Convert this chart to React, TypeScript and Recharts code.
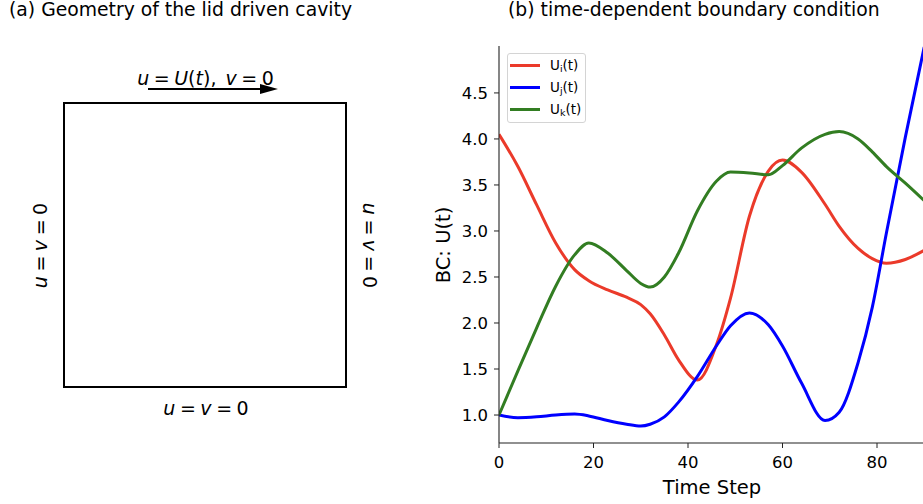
import React from "react";
import { LineChart, Line, XAxis, YAxis, Legend } from "recharts";

const FONT = "'DejaVu Sans', sans-serif";

// values
const timeSteps = [0, 4, 8, 12, 16, 19, 23, 27, 30, 32, 35, 38, 42, 46, 49, 53, 57, 60, 64, 69, 72, 76, 79, 82, 86, 90];
const uiValues = [4.05, 3.7, 3.28, 2.87, 2.58, 2.46, 2.36, 2.28, 2.2, 2.1, 1.87, 1.6, 1.38, 1.76, 2.27, 3.16, 3.65, 3.77, 3.64, 3.29, 3.05, 2.81, 2.7, 2.65, 2.69, 2.79];
const ujValues = [1.0, 0.97, 0.98, 1.0, 1.01, 0.99, 0.94, 0.9, 0.88, 0.9, 0.98, 1.14, 1.42, 1.75, 1.97, 2.11, 1.98, 1.75, 1.35, 0.94, 1.03, 1.57, 2.17, 2.98, 4.02, 5.0];
const ukValues = [1.0, 1.48, 1.95, 2.4, 2.74, 2.87, 2.76, 2.57, 2.43, 2.39, 2.5, 2.76, 3.22, 3.54, 3.64, 3.63, 3.61, 3.71, 3.9, 4.05, 4.08, 4.0, 3.86, 3.7, 3.52, 3.33];

const xTicks = [0, 20, 40, 60, 80];
const yTicks = [1.0, 1.5, 2.0, 2.5, 3.0, 3.5, 4.0, 4.5];
const legendSubs: Record<string, string> = { ui: "i", uj: "j", uk: "k" };

const chartData = timeSteps.map((t, i) => ({
  t,
  ui: uiValues[i],
  uj: ujValues[i],
  uk: ukValues[i],
}));

const LegendBox = ({ payload }: any) => (
  <div
    style={{
      width: 77,
      height: 68,
      border: "1px solid #d4d4d4",
      borderRadius: 3,
      background: "rgba(255,255,255,0.8)",
      position: "relative",
    }}
  >
    {(payload || []).map((entry: any, i: number) => (
      <div
        key={i}
        style={{
          position: "absolute",
          left: 2,
          top: 4 + i * 22,
          height: 14,
          display: "flex",
          alignItems: "center",
        }}
      >
        <span style={{ display: "inline-block", width: 30, height: 3, background: entry.color }} />
        <span style={{ marginLeft: 10, fontSize: 13.5, lineHeight: "14px", color: "#000", fontFamily: FONT, whiteSpace: "nowrap" }}>
          U
          <sub style={{ fontSize: 9.5, lineHeight: 0, verticalAlign: -2 }}>{legendSubs[entry.dataKey]}</sub>
          (t)
        </span>
      </div>
    ))}
  </div>
);

const mathStyle: React.CSSProperties = { whiteSpace: "pre", wordSpacing: -1.5 };

const App = () => {
  return (
    <div
      style={{
        position: "absolute",
        left: 0,
        top: 0,
        width: 923,
        height: 504,
        overflow: "hidden",
        background: "#fff",
        fontFamily: FONT,
      }}
    >
      <div style={{ position: "absolute", left: 0, top: 0 }}>
        <LineChart
          width={960}
          height={504}
          data={chartData}
          margin={{ top: 46, right: 35.75, bottom: 31, left: 439 }}
        >
          <XAxis
            dataKey="t"
            type="number"
            domain={[0, 90]}
            ticks={xTicks}
            allowDataOverflow
            height={30}
            tickSize={5}
            tickMargin={8}
            stroke="#222"
            axisLine={{ stroke: "#222", strokeWidth: 1.1 }}
            tick={{ fill: "#000", fontSize: 16.5, fontFamily: FONT }}
          />
          <XAxis
            xAxisId="top"
            orientation="top"
            dataKey="t"
            type="number"
            domain={[0, 90]}
            height={0}
            tick={false}
            tickLine={false}
            axisLine={{ stroke: "#222", strokeWidth: 1.1 }}
          />
          <YAxis
            type="number"
            domain={[0.696, 5.01]}
            ticks={yTicks}
            allowDataOverflow
            width={60}
            tickSize={5}
            tickMargin={6}
            stroke="#222"
            axisLine={{ stroke: "#222", strokeWidth: 1.1 }}
            tickFormatter={(v: number) => v.toFixed(1)}
            tick={{ fill: "#000", fontSize: 16.5, fontFamily: FONT }}
          />
          <Legend
            layout="vertical"
            align="center"
            verticalAlign="middle"
            content={<LegendBox />}
            wrapperStyle={{ left: 507, top: 53, width: "auto" }}
          />
          <Line type="monotone" dataKey="ui" name="Ui(t)" stroke="#eb3a2a" strokeWidth={3} dot={false} activeDot={false} isAnimationActive={false} />
          <Line type="monotone" dataKey="uj" name="Uj(t)" stroke="#0000ff" strokeWidth={3} dot={false} activeDot={false} isAnimationActive={false} />
          <Line type="monotone" dataKey="uk" name="Uk(t)" stroke="#327d22" strokeWidth={3} dot={false} activeDot={false} isAnimationActive={false} />
        </LineChart>
      </div>

      <svg
        width={923}
        height={504}
        style={{ position: "absolute", left: 0, top: 0, pointerEvents: "none" }}
        fontFamily={FONT}
      >
        {/* titles */}
        <text x={9} y={16} fontSize={18.8} fill="#000">
          (a) Geometry of the lid driven cavity
        </text>
        <text x={508} y={16} fontSize={18.8} fill="#000">
          (b) time-dependent boundary condition
        </text>

        {/* axis titles */}
        <text x={712} y={494} fontSize={19.5} textAnchor="middle" fill="#000">
          Time Step
        </text>
        <text x={450} y={245} fontSize={19.5} textAnchor="middle" fill="#000" transform="rotate(-90 450 245)">
          BC: U(t)
        </text>

        {/* cavity */}
        <rect x={64} y={103} width={282} height={284} fill="none" stroke="#000" strokeWidth={2} />
        <line x1={148} y1={89} x2={262} y2={89} stroke="#000" strokeWidth={2} />
        <polygon points="260,84 278,89 260,94" fill="#000" />

        <text x={205.5} y={85} fontSize={19} textAnchor="middle" fill="#000" style={mathStyle}>
          <tspan fontStyle="italic">u</tspan>
          {" = "}
          <tspan fontStyle="italic">U</tspan>(<tspan fontStyle="italic">t</tspan>),{"  "}
          <tspan fontStyle="italic">v</tspan>
          {" = 0"}
        </text>
        <text x={206} y={415} fontSize={19} textAnchor="middle" fill="#000" style={mathStyle}>
          <tspan fontStyle="italic">u</tspan>
          {" = "}
          <tspan fontStyle="italic">v</tspan>
          {" = 0"}
        </text>
        <text x={47} y={245.5} fontSize={19} textAnchor="middle" fill="#000" style={mathStyle} transform="rotate(-90 47 245.5)">
          <tspan fontStyle="italic">u</tspan>
          {" = "}
          <tspan fontStyle="italic">v</tspan>
          {" = 0"}
        </text>
        <text x={363} y={245.5} fontSize={19} textAnchor="middle" fill="#000" style={mathStyle} transform="rotate(90 363 245.5)">
          <tspan fontStyle="italic">u</tspan>
          {" = "}
          <tspan fontStyle="italic">v</tspan>
          {" = 0"}
        </text>
      </svg>
    </div>
  );
};

export default App;
